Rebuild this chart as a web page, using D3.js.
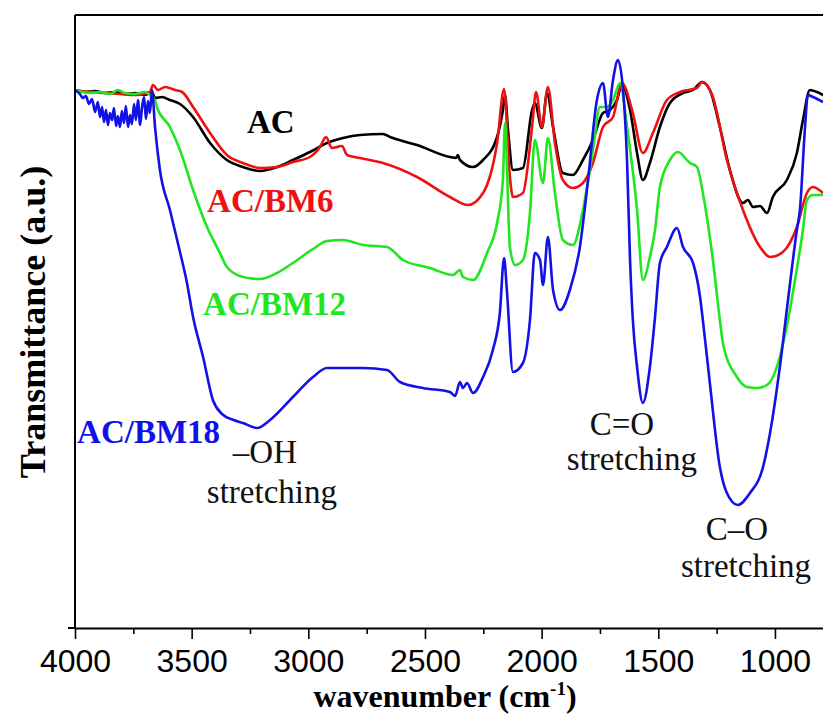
<!DOCTYPE html>
<html>
<head>
<meta charset="utf-8">
<script src="https://cdn.jsdelivr.net/npm/d3@7"></script>
<style>
  body { margin: 0; background: #fff; }
  svg { display: block; }
</style>
</head>
<body>
<svg width="823" height="715"></svg>
<script>
// FTIR spectra, [wavenumber (cm-1), transmittance (a.u.)]
const acData = [[4000,538],[3957,536],[3914,537],[3871,535],[3829,536],[3786,534],[3743,535],[3700,533],[3670,536],[3657,530],[3627,531],[3593,528],[3550,524],[3494,511],[3421,485],[3349,468],[3280,461],[3207,457],[3134,461],[3066,468],[2993,476],[2920,485],[2851,490],[2779,493],[2680,494],[2650,491],[2534,483],[2393,471],[2367,470],[2359,473],[2350,468],[2294,461],[2251,468],[2191,491],[2166,518],[2157,533],[2144,498],[2123,458],[2080,460],[2041,518],[2029,525],[1999,500],[1977,535],[1951,501],[1909,455],[1866,453],[1823,468],[1780,488],[1737,515],[1707,518],[1677,528],[1656,543],[1621,518],[1591,475],[1566,448],[1536,465],[1493,501],[1450,525],[1394,535],[1351,538],[1313,546],[1279,538],[1236,501],[1193,458],[1137,425],[1116,428],[1094,421],[1064,422],[1034,415],[1009,431],[949,448],[906,475],[880,508],[850,538],[820,536],[794,533]];

const bm6Data = [[4000,538],[3936,536],[3871,535],[3807,534],[3743,533],[3679,536],[3666,543],[3644,538],[3614,541],[3571,538],[3541,536],[3494,521],[3421,495],[3349,473],[3280,465],[3207,460],[3134,461],[3066,466],[2993,471],[2950,481],[2924,491],[2899,480],[2856,482],[2834,473],[2779,470],[2680,465],[2534,451],[2393,431],[2316,423],[2251,435],[2191,485],[2161,539],[2136,451],[2123,431],[2080,435],[2041,501],[2024,536],[1999,501],[1973,541],[1943,485],[1909,448],[1866,440],[1823,445],[1780,465],[1737,501],[1694,511],[1656,545],[1609,515],[1566,475],[1523,495],[1463,528],[1407,536],[1334,540],[1313,546],[1266,531],[1206,468],[1137,418],[1064,381],[1021,371],[966,376],[906,401],[863,435],[837,441],[794,435]];

const bm12Data = [[4000,538],[3936,535],[3893,536],[3850,534],[3816,538],[3786,535],[3743,534],[3700,536],[3679,533],[3657,528],[3649,521],[3593,501],[3550,478],[3494,438],[3434,401],[3379,375],[3349,361],[3280,351],[3207,349],[3134,355],[3066,365],[2980,379],[2920,387],[2851,388],[2766,383],[2663,381],[2594,368],[2479,360],[2380,353],[2350,358],[2337,351],[2294,348],[2234,375],[2191,405],[2166,448],[2157,505],[2136,381],[2114,363],[2080,368],[2050,415],[2029,488],[1994,445],[1973,490],[1943,435],[1909,388],[1866,383],[1823,418],[1780,478],[1750,521],[1720,521],[1694,528],[1664,545],[1634,501],[1591,418],[1566,348],[1536,371],[1514,398],[1493,441],[1450,468],[1416,476],[1364,465],[1334,461],[1309,435],[1266,368],[1236,308],[1223,285],[1163,251],[1120,241],[1077,240],[1034,243],[979,271],[944,308],[914,348],[880,398],[863,428],[837,433],[794,433]];

const bm18Data = [[4000,538],[3979,534],[3966,530],[3953,532],[3940,524],[3927,529],[3914,516],[3902,526],[3893,511],[3884,521],[3876,506],[3867,518],[3859,503],[3850,515],[3841,508],[3833,520],[3824,502],[3816,512],[3807,501],[3799,517],[3790,505],[3782,522],[3773,501],[3764,513],[3756,504],[3747,524],[3739,508],[3730,528],[3721,503],[3713,520],[3704,531],[3696,509],[3687,527],[3679,515],[3670,538],[3657,501],[3636,458],[3593,418],[3550,376],[3520,345],[3494,311],[3451,271],[3409,228],[3370,214],[3320,208],[3280,205],[3220,200],[3164,208],[3066,231],[2980,251],[2920,260],[2834,260],[2766,260],[2663,258],[2607,246],[2509,240],[2393,236],[2371,232],[2350,246],[2337,240],[2320,245],[2294,235],[2251,251],[2209,278],[2179,315],[2161,370],[2149,338],[2123,256],[2080,265],[2050,308],[2029,375],[2007,368],[1994,343],[1973,391],[1951,338],[1921,318],[1879,338],[1836,381],[1801,448],[1763,528],[1737,545],[1716,511],[1694,548],[1673,568],[1651,538],[1634,468],[1621,368],[1609,308],[1591,261],[1566,225],[1536,261],[1514,311],[1493,365],[1463,381],[1420,400],[1394,381],[1351,365],[1321,331],[1309,308],[1279,245],[1236,161],[1206,135],[1159,123],[1107,135],[1051,161],[1021,195],[979,261],[944,328],[906,398],[893,418],[871,501],[859,533],[837,531],[794,526]];

const seriesNames = ["AC", "AC/BM6", "AC/BM12", "AC/BM18"];
const seriesColors = ["#000000", "#ee1111", "#1fe61f", "#1212e6"];
const seriesData = [acData, bm6Data, bm12Data, bm18Data];

const xTicks = [4000, 3500, 3000, 2500, 2000, 1500, 1000];
const xMinorTicks = [3750, 3250, 2750, 2250, 1750, 1250];

// series labels: [text, wavenumber, transmittance]
const seriesLabels = [["AC", 3263, 495], ["AC/BM6", 3434, 416], ["AC/BM12", 3451, 313], ["AC/BM18", 3991, 185]];
// band annotations: [text, wavenumber, transmittance] per line
const bandLabels = [
  ["\u2013OH", 3186, 165], ["stretching", 3156, 125],
  ["C=O", 1656, 193], ["stretching", 1613, 158],
  ["C\u2013O", 1163, 88], ["stretching", 1124, 51]
];

const svg = d3.select("svg");
const width = +svg.attr("width");
const height = +svg.attr("height");
const margin = { left: 75, top: 15, bottom: 87 };
const plotBottom = height - margin.bottom;
const serif = "'Liberation Serif', 'Times New Roman', serif";

const x = d3.scaleLinear()
  .domain([4000, 794])
  .range([margin.left, width]);

const y = d3.scaleLinear()
  .domain([0, 613])
  .range([plotBottom, margin.top]);

svg.append("rect").attr("width", width).attr("height", height).attr("fill", "#fff");

svg.append("clipPath").attr("id", "plot-clip")
  .append("rect")
  .attr("x", margin.left).attr("y", margin.top)
  .attr("width", width - margin.left).attr("height", plotBottom - margin.top);

const line = d3.line()
  .x(d => x(d[0]))
  .y(d => y(d[1]))
  .curve(d3.curveMonotoneX);

svg.append("g")
  .attr("clip-path", "url(#plot-clip)")
  .selectAll("path")
  .data(seriesData)
  .join("path")
  .attr("d", line)
  .attr("fill", "none")
  .attr("stroke", (d, i) => seriesColors[i])
  .attr("stroke-width", 2.6)
  .attr("stroke-linejoin", "round");

// frame: top and left
svg.append("line")
  .attr("x1", margin.left).attr("x2", width + 5)
  .attr("y1", margin.top).attr("y2", margin.top)
  .attr("stroke", "#000").attr("stroke-width", 2);

svg.append("g")
  .attr("transform", `translate(${margin.left},0)`)
  .call(d3.axisLeft(y).tickValues([0]).tickSize(7).tickFormat(""))
  .call(g => g.select(".domain").attr("stroke-width", 2).attr("d", `M-7,${plotBottom}H0V${margin.top}`));

// bottom axis
const xAxis = svg.append("g")
  .attr("transform", `translate(0,${plotBottom})`);

xAxis.call(d3.axisBottom(x).tickValues(xMinorTicks).tickSize(6).tickFormat(""))
  .call(g => g.select(".domain").remove());

xAxis.append("g")
  .call(d3.axisBottom(x).tickValues(xTicks).tickSize(11).tickPadding(10).tickSizeOuter(0).tickFormat(d3.format("d")))
  .call(g => g.select(".domain").attr("stroke-width", 2))
  .call(g => g.selectAll(".tick text")
    .attr("font-family", "'Liberation Sans', Arial, sans-serif")
    .attr("font-size", 32)
    .attr("fill", "#000"));

xAxis.selectAll(".tick line").attr("stroke", "#000").attr("stroke-width", 1.6);

// axis titles
const xTitle = svg.append("text")
  .attr("x", 445).attr("y", 707)
  .attr("text-anchor", "middle")
  .attr("font-family", serif)
  .attr("font-weight", "bold")
  .attr("font-size", 32)
  .text("wavenumber (cm");
xTitle.append("tspan").attr("font-size", 19).attr("dy", -12).text("-1");
xTitle.append("tspan").attr("dy", 12).text(")");

svg.append("text")
  .attr("transform", "translate(45,322) rotate(-90)")
  .attr("text-anchor", "middle")
  .attr("font-family", serif)
  .attr("font-weight", "bold")
  .attr("font-size", 36)
  .text("Transmittance (a.u.)");

// series labels
svg.append("g")
  .selectAll("text")
  .data(seriesLabels)
  .join("text")
  .attr("x", d => x(d[1]))
  .attr("y", d => y(d[2]))
  .attr("font-family", serif)
  .attr("font-weight", "bold")
  .attr("font-size", 33)
  .attr("fill", (d, i) => seriesColors[i])
  .text(d => d[0]);

// band annotations
svg.append("g")
  .selectAll("text")
  .data(bandLabels)
  .join("text")
  .attr("x", d => x(d[1]))
  .attr("y", d => y(d[2]))
  .attr("text-anchor", "middle")
  .attr("font-family", serif)
  .attr("font-size", 33)
  .attr("fill", "#111")
  .text(d => d[0]);
</script>
</body>
</html>
